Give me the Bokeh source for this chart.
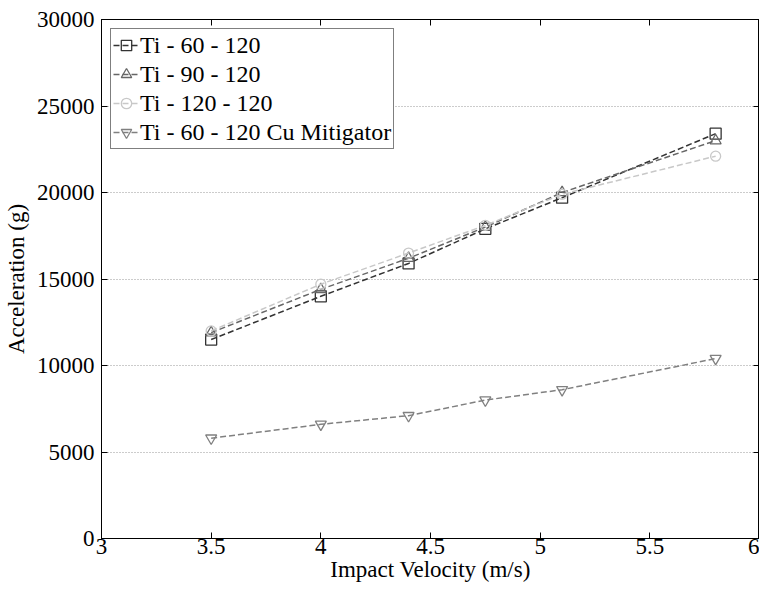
from bokeh.plotting import figure
from bokeh.models import LinearAxis, Range1d, Legend, LegendItem, FixedTicker
from bokeh.embed import file_html
from bokeh.resources import INLINE

velocity = [3.5, 4.0, 4.4, 4.75, 5.1, 5.8]
ti_60_120 = [11500, 14000, 15900, 17900, 19700, 23400]
ti_90_120 = [11900, 14400, 16200, 18000, 20000, 23000]
ti_120_120 = [12000, 14700, 16500, 18100, 19900, 22100]
ti_60_120_cu = [5800, 6600, 7100, 8000, 8600, 10400]
x_ticks = [3, 3.5, 4, 4.5, 5, 5.5, 6]
y_ticks = [0, 5000, 10000, 15000, 20000, 25000, 30000]

FONT = "'Liberation Serif', 'Times New Roman', serif"

p = figure(width=759, height=584, output_backend="svg", toolbar_location=None,
           x_range=Range1d(3, 6), y_range=Range1d(0, 30000),
           min_border_left=99, min_border_top=19, min_border_right=0, min_border_bottom=0)

p.outline_line_color = "black"
p.outline_line_width = 1
p.xgrid.visible = False
p.ygrid.grid_line_color = "#999999"
p.ygrid.grid_line_dash = "1 2"
p.ygrid.grid_line_width = 1
p.ygrid.ticker = FixedTicker(ticks=y_ticks)

def style_axis(ax, labels=True):
    ax.axis_line_color = "black"
    ax.major_tick_in = 6
    ax.major_tick_out = 0
    ax.minor_tick_in = 0
    ax.minor_tick_out = 0
    ax.major_tick_line_color = "black"
    ax.major_label_text_font = FONT
    ax.major_label_text_font_size = "23px"
    ax.major_label_text_color = "black"
    ax.axis_label_text_font = FONT
    ax.axis_label_text_font_size = "23px"
    ax.axis_label_text_font_style = "normal"
    ax.axis_label_text_color = "black"
    if not labels:
        ax.major_label_text_font_size = "0px"
        ax.major_label_text_color = None
        ax.major_label_standoff = 0
        ax.axis_label_standoff = 0

p.xaxis.ticker = FixedTicker(ticks=x_ticks)
p.yaxis.ticker = FixedTicker(ticks=y_ticks)
p.xaxis.axis_label = "Impact Velocity (m/s)"
p.yaxis.axis_label = "Acceleration (g)"
p.xaxis.major_label_standoff = 0
p.yaxis.major_label_standoff = 7
p.xaxis.axis_label_standoff = 0
p.yaxis.axis_label_standoff = 5
style_axis(p.xaxis[0])
style_axis(p.yaxis[0])

top = LinearAxis(ticker=FixedTicker(ticks=x_ticks))
right = LinearAxis(ticker=FixedTicker(ticks=y_ticks))
style_axis(top, labels=False)
style_axis(right, labels=False)
p.add_layout(top, "above")
p.add_layout(right, "right")

series = [
    ("Ti - 60 - 120", ti_60_120, "#333333", "square"),
    ("Ti - 90 - 120", ti_90_120, "#666666", "triangle"),
    ("Ti - 120 - 120", ti_120_120, "#c8c8c8", "circle"),
    ("Ti - 60 - 120 Cu Mitigator", ti_60_120_cu, "#808080", "inverted_triangle"),
]

items = []
for name, ys, color, marker in series:
    ln = p.line(velocity, ys, line_color=color, line_width=1.5, line_dash="6 3")
    sc = p.scatter(velocity, ys, marker=marker, size=11 if marker != "circle" else 10,
                   line_color=color, fill_color=None, line_width=1.3)
    items.append(LegendItem(label=name, renderers=[ln, sc]))

legend = Legend(items=items, location="top_left")
legend.label_text_font = FONT
legend.label_text_font_size = "24px"
legend.label_text_color = "black"
legend.border_line_color = "black"
legend.border_line_width = 1
legend.background_fill_alpha = 1
legend.glyph_width = 26
legend.glyph_height = 28
legend.label_standoff = 1
legend.spacing = 1
legend.padding = 2
legend.margin = 9
legend.label_height = 28
p.add_layout(legend)

open("out.html", "w").write(file_html(p, INLINE))
